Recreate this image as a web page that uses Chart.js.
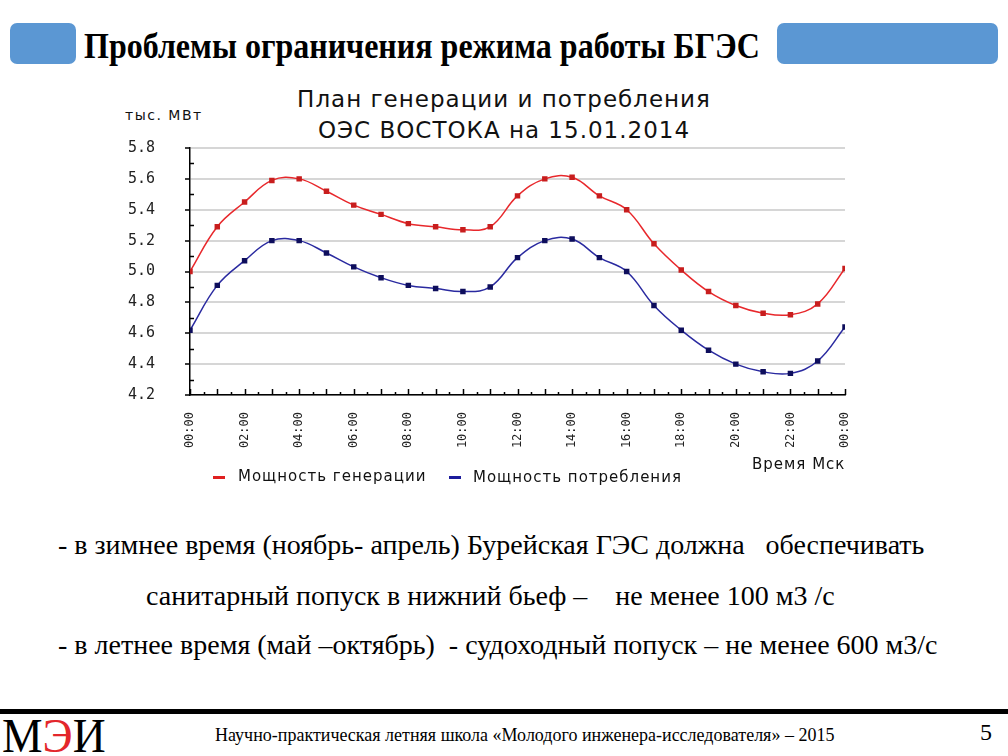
<!DOCTYPE html>
<html lang="ru">
<head>
<meta charset="utf-8">
<title>План генерации и потребления ОЭС ВОСТОКА</title>
<script src="https://cdn.jsdelivr.net/npm/chart.js@4.4.1/dist/chart.umd.min.js"></script>
<style>
  html, body { margin: 0; padding: 0; background: #fff; }
  body { width: 1008px; height: 756px; position: relative; overflow: hidden; }
  .abs { position: absolute; white-space: pre; line-height: 1; }
  .bar { position: absolute; background: #5b97d3; border-radius: 7px; }
  .serif { font-family: "Liberation Serif", "Times New Roman", serif; color: #000; }
  .sans { font-family: "DejaVu Sans", Verdana, sans-serif; color: #111; }
  #chartBox { position: absolute; left: 0; top: 109px; width: 1008px; height: 351px; }
  .dash { position: absolute; height: 3px; width: 12px; }
</style>
</head>
<body>
  <div class="bar" style="left:10px; top:23px; width:66px; height:41px;"></div>
  <div class="bar" style="left:777px; top:23px; width:221px; height:41px;"></div>
  <div class="abs serif" style="left:84px; top:28px; font-size:33px; font-weight:bold; transform-origin:0 0; transform:scale(0.97, 1.1);">Проблемы ограничения режима работы БГЭС</div>

  <div class="abs sans" style="left:0; width:1008px; text-align:center; top:88px; font-size:23px; letter-spacing:1px;">План генерации и потребления</div>
  <div class="abs sans" style="left:0; width:1008px; text-align:center; top:119px; font-size:23px; letter-spacing:1px;">ОЭС ВОСТОКА на 15.01.2014</div>
  <div class="abs sans" style="left:125px; top:108px; font-size:14px; letter-spacing:1.5px;">тыс. МВт</div>

  <div id="chartBox"><canvas id="powerChart"></canvas></div>

  <div class="abs sans" style="left:752px; top:457px; font-size:15px; letter-spacing:1px;">Время Мск</div>
  <div class="dash" style="left:213px; top:476px; background:#e02020;"></div>
  <div class="abs sans" style="left:238px; top:469px; font-size:15px; letter-spacing:1px;">Мощность генерации</div>
  <div class="dash" style="left:449px; top:476px; background:#1c1c9c;"></div>
  <div class="abs sans" style="left:473px; top:470px; font-size:15px; letter-spacing:1px;">Мощность потребления</div>

  <div class="abs serif" style="left:58px; top:531px; font-size:28px;">- в зимнее время (ноябрь- апрель) Бурейская ГЭС должна   обеспечивать</div>
  <div class="abs serif" style="left:146px; top:582px; font-size:28px;">санитарный попуск в нижний бьеф –    не менее 100 м3 /с</div>
  <div class="abs serif" style="left:58px; top:631px; font-size:28px;">- в летнее время (май –октябрь)  - судоходный попуск – не менее 600 м3/с</div>

  <div style="position:absolute; left:0; top:709px; width:1008px; height:5px; background:#000;"></div>
  <div class="abs serif" style="left:2px; top:712px; font-size:48px; transform-origin:0 0; transform:scaleX(0.95);">М<span style="color:#e3262b;">Э</span>И</div>
  <div class="abs serif" style="left:215px; top:724px; font-size:18px; transform-origin:0 0; transform:scaleY(1.1);">Научно-практическая летняя школа «Молодого инженера-исследователя» – 2015</div>
  <div class="abs serif" style="left:980px; top:720px; font-size:24px;">5</div>

<script>
// часы суток (0 ... 24)
const hours = [0, 1, 2, 3, 4, 5, 6, 7, 8, 9, 10, 11, 12, 13, 14, 15, 16, 17, 18, 19, 20, 21, 22, 23, 24];

// тыс. МВт
const generation = [5.00, 5.29, 5.45, 5.59, 5.60, 5.52, 5.43, 5.37, 5.31, 5.29, 5.27, 5.29,
                    5.49, 5.60, 5.61, 5.49, 5.40, 5.18, 5.01, 4.87, 4.78, 4.73, 4.72, 4.79, 5.02];
const consumption = [4.62, 4.91, 5.07, 5.20, 5.20, 5.12, 5.03, 4.96, 4.91, 4.89, 4.87, 4.90,
                     5.09, 5.20, 5.21, 5.09, 5.00, 4.78, 4.62, 4.49, 4.40, 4.35, 4.34, 4.42, 4.64];

const seriesNames = ['Мощность генерации', 'Мощность потребления'];
const yMin = 4.2, yMax = 5.8, yStep = 0.2;
const xStep = 2;

function toPoints(values) {
    return hours.map((h, i) => ({ x: h, y: values[i] }));
}

function hourLabel(h) {
    return String(h % 24).padStart(2, '0') + ':00';
}

// мелкие засечки внутри поля графика
const innerTicks = {
    id: 'innerTicks',
    afterDraw(chart) {
        const { ctx, scales: { x, y } } = chart;
        ctx.save();
        ctx.strokeStyle = '#000';
        ctx.lineWidth = 1.5;
        ctx.beginPath();
        for (let h = hours[0]; h <= hours[hours.length - 1]; h += 0.5) {
            const px = Math.round(x.getPixelForValue(h)) + 0.5;
            const len = h % 1 === 0 ? 6 : 3;
            ctx.moveTo(px, y.bottom);
            ctx.lineTo(px, y.bottom - len);
        }
        for (let v = yMin + yStep / 2; v < yMax; v += yStep) {
            const py = Math.round(y.getPixelForValue(v)) + 0.5;
            ctx.moveTo(x.left, py);
            ctx.lineTo(x.left + 4, py);
        }
        ctx.stroke();
        ctx.restore();
    }
};

const ctx = document.getElementById('powerChart').getContext('2d');
const powerChart = new Chart(ctx, {
    type: 'line',
    data: {
        datasets: [
            {
                label: seriesNames[0],
                data: toPoints(generation),
                borderColor: '#e8282c',
                backgroundColor: '#c81e1e',
                pointBackgroundColor: '#c81e1e',
                pointBorderColor: '#c81e1e',
                borderWidth: 1.5,
                pointStyle: 'rect',
                pointRadius: 2.8,
                tension: 0.4
            },
            {
                label: seriesNames[1],
                data: toPoints(consumption),
                borderColor: '#2a2aa0',
                backgroundColor: '#0e0e5c',
                pointBackgroundColor: '#0e0e5c',
                pointBorderColor: '#0e0e5c',
                borderWidth: 1.5,
                pointStyle: 'rect',
                pointRadius: 2.8,
                tension: 0.4
            }
        ]
    },
    options: {
        responsive: true,
        maintainAspectRatio: false,
        animation: false,
        layout: { padding: { left: 0, right: 163, top: 8, bottom: 0 } },
        plugins: {
            legend: { display: false },
            tooltip: { enabled: false }
        },
        scales: {
            x: {
                type: 'linear',
                min: hours[0],
                max: hours[hours.length - 1],
                grid: { display: false },
                border: { display: true, color: '#000', width: 1.5 },
                ticks: {
                    stepSize: xStep,
                    autoSkip: false,
                    minRotation: 90,
                    maxRotation: 90,
                    padding: 9,
                    color: '#222',
                    font: { family: 'DejaVu Sans Mono', size: 12 },
                    callback: v => hourLabel(v)
                },
                afterFit(scale) { scale.height = 65; }
            },
            y: {
                min: yMin,
                max: yMax,
                grid: { color: '#d6d6d6', lineWidth: 2, tickColor: '#000', tickLength: 5, tickWidth: 1.5 },
                border: { display: true, color: '#000', width: 1.5 },
                ticks: {
                    stepSize: yStep,
                    padding: 30,
                    color: '#222',
                    font: { family: 'DejaVu Sans Mono', size: 15 },
                    callback: v => v.toFixed(1)
                },
                afterFit(scale) { scale.width = 190; }
            }
        }
    },
    plugins: [innerTicks]
});
</script>
</body>
</html>
